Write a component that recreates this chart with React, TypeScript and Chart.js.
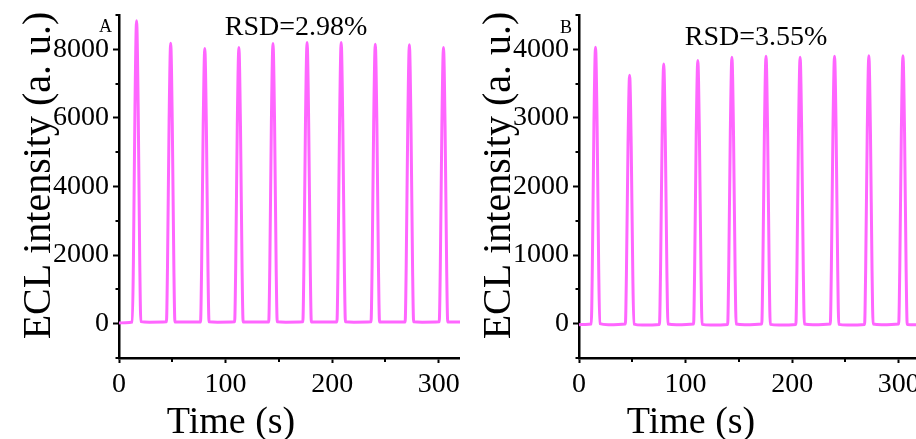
import React, { useEffect, useRef } from 'react';
import { Chart, registerables } from 'chart.js';

Chart.register(...registerables);

const FONT = "'Liberation Serif', 'Times New Roman', serif";
const LINE_COLOR = '#ff66ff';

// ---- Panel A data (time in s, ECL intensity in a.u.) ----
const timeA = [
  0, 6,
  12.5, 13.5, 15, 16.5, 18, 19.5, 20.5, 28.5,
  44.5, 45.5, 47, 48.5, 50, 51.5, 52.5, 60.5,
  76.5, 77.5, 79, 80.5, 82, 83.5, 84.5, 92.5,
  108.5, 109.5, 111, 112.5, 114, 115.5, 116.5, 124.5,
  140.5, 141.5, 143, 144.5, 146, 147.5, 148.5, 156.5,
  172.5, 173.5, 175, 176.5, 178, 179.5, 180.5, 188.5,
  204.5, 205.5, 207, 208.5, 210, 211.5, 212.5, 220.5,
  236.5, 237.5, 239, 240.5, 242, 243.5, 244.5, 252.5,
  268.5, 269.5, 271, 272.5, 274, 275.5, 276.5, 284.5,
  300.5, 301.5, 303, 304.5, 306, 307.5, 308.5, 316.5, 320,
];
const intensityA = [
  20, 30,
  50, 1770, 6360, 8830, 6300, 1740, 60, 45,
  55, 1640, 5890, 8180, 5840, 1610, 50, 50,
  50, 1600, 5770, 8020, 5730, 1580, 55, 45,
  55, 1610, 5800, 8050, 5750, 1590, 50, 50,
  50, 1630, 5880, 8170, 5840, 1610, 55, 45,
  55, 1640, 5900, 8200, 5860, 1620, 50, 50,
  50, 1640, 5900, 8200, 5860, 1620, 55, 45,
  55, 1630, 5870, 8150, 5820, 1610, 50, 50,
  50, 1630, 5850, 8130, 5810, 1600, 55, 45,
  55, 1610, 5800, 8050, 5750, 1590, 50, 50, 50,
];

// ---- Panel B data ----
const timeB = [
  0, 6,
  11.5, 12.5, 14, 15.5, 17, 18.5, 19.5, 27.5,
  43.5, 44.5, 46, 47.5, 49, 50.5, 51.5, 59.5,
  75.5, 76.5, 78, 79.5, 81, 82.5, 83.5, 91.5,
  107.5, 108.5, 110, 111.5, 113, 114.5, 115.5, 123.5,
  139.5, 140.5, 142, 143.5, 145, 146.5, 147.5, 155.5,
  171.5, 172.5, 174, 175.5, 177, 178.5, 179.5, 187.5,
  203.5, 204.5, 206, 207.5, 209, 210.5, 211.5, 219.5,
  235.8, 236.8, 238.3, 239.8, 241.3, 242.8, 243.8, 252,
  268, 269, 270.5, 272, 273.5, 275, 276, 284,
  300, 301, 302.5, 304, 305.5, 307, 308, 316, 320,
];
const intensityB = [
  -15, -10,
  -5, 810, 2900, 4030, 2880, 790, 0, -15,
  -5, 720, 2610, 3620, 2590, 700, -5, -20,
  -10, 760, 2730, 3785, 2700, 740, -5, -15,
  -5, 770, 2760, 3835, 2740, 750, -10, -20,
  -10, 780, 2800, 3885, 2770, 760, -5, -15,
  -5, 780, 2810, 3900, 2790, 770, -10, -20,
  -10, 780, 2800, 3885, 2770, 760, -5, -15,
  -5, 780, 2810, 3900, 2790, 770, -10, -20,
  -10, 780, 2810, 3905, 2790, 770, -5, -15,
  -5, 780, 2810, 3905, 2790, 770, -10, -15, -15,
];

// ---- Axis ticks ----
const xMajorTicks = [0, 100, 200, 300];
const xMinorTicks = [50, 150, 250];
const yMajorTicksA = [0, 2000, 4000, 6000, 8000];
const yMinorTicksA = [-1000, 1000, 3000, 5000, 7000, 9000];
const yMajorTicksB = [0, 1000, 2000, 3000, 4000];
const yMinorTicksB = [-500, 500, 1500, 2500, 3500, 4500];

const X_TITLE = 'Time (s)';
const Y_TITLE = 'ECL intensity (a. u.)';

type PanelProps = {
  times: number[];
  values: number[];
  yMin: number;
  yMax: number;
  yMajor: number[];
  yMinor: number[];
  letter: string;
  letterY: number;
  rsd: string;
  rsdY: number;
};

function Panel(p: PanelProps) {
  const ref = useRef<HTMLCanvasElement | null>(null);
  useEffect(() => {
    if (!ref.current) return;
    const textPlugin = {
      id: 'panelText',
      afterDraw(chart: any) {
        const ctx = chart.ctx;
        const xs = chart.scales.x;
        const ys = chart.scales.y;
        ctx.save();
        ctx.strokeStyle = '#000';
        ctx.lineWidth = 2;
        // minor ticks
        p.yMinor.forEach((v) => {
          const y = Math.round(ys.getPixelForValue(v));
          ctx.beginPath();
          ctx.moveTo(chart.chartArea.left - 3.5, y);
          ctx.lineTo(chart.chartArea.left, y);
          ctx.stroke();
        });
        xMinorTicks.forEach((v) => {
          const x = Math.round(xs.getPixelForValue(v));
          ctx.beginPath();
          ctx.moveTo(x, chart.chartArea.bottom);
          ctx.lineTo(x, chart.chartArea.bottom + 4);
          ctx.stroke();
        });
        ctx.fillStyle = '#000';
        // panel letter
        ctx.font = `18px ${FONT}`;
        ctx.textAlign = 'right';
        ctx.textBaseline = 'alphabetic';
        ctx.fillText(p.letter, 112, p.letterY);
        // RSD
        ctx.font = `28px ${FONT}`;
        ctx.textAlign = 'center';
        ctx.fillText(p.rsd, 296, p.rsdY);
        // x title
        ctx.font = `38px ${FONT}`;
        ctx.fillText(X_TITLE, 231, 433);
        // y title
        ctx.translate(50, 175.5);
        ctx.rotate(-Math.PI / 2);
        ctx.font = `40px ${FONT}`;
        ctx.fillText(Y_TITLE, 0, 0);
        ctx.restore();
      },
    };
    const chart = new Chart(ref.current, {
      type: 'line',
      data: {
        datasets: [
          {
            data: p.times.map((t, i) => ({ x: t, y: p.values[i] })),
            borderColor: LINE_COLOR,
            backgroundColor: LINE_COLOR,
            borderWidth: 3,
            pointRadius: 0,
            cubicInterpolationMode: 'monotone',
            fill: false,
          },
        ],
      },
      options: {
        responsive: false,
        animation: false,
        devicePixelRatio: 1,
        events: [],
        layout: { padding: { top: 15, left: 0, right: 0, bottom: 0 } },
        plugins: { legend: { display: false }, tooltip: { enabled: false } },
        scales: {
          x: {
            type: 'linear',
            min: 0,
            max: 320,
            afterBuildTicks: (s: any) => {
              s.ticks = xMajorTicks.map((v) => ({ value: v }));
            },
            afterFit: (s: any) => {
              s.height = 81;
              s.paddingLeft = 0;
              s.paddingRight = 0;
            },
            ticks: {
              font: { family: FONT, size: 28 },
              color: '#000',
              padding: 5,
              maxRotation: 0,
              autoSkip: false,
              callback: (v: any) => String(v),
            },
            grid: {
              drawOnChartArea: false,
              drawTicks: true,
              tickLength: 5,
              tickWidth: 2,
              tickColor: '#000',
            },
            border: { display: true, color: '#000', width: 2.5 },
          },
          y: {
            type: 'linear',
            min: p.yMin,
            max: p.yMax,
            afterBuildTicks: (s: any) => {
              s.ticks = p.yMajor.map((v) => ({ value: v }));
            },
            afterFit: (s: any) => {
              s.width = 119;
              s.paddingTop = 0;
              s.paddingBottom = 0;
            },
            ticks: {
              font: { family: FONT, size: 28 },
              color: '#000',
              padding: 4,
              autoSkip: false,
              callback: (v: any) => String(v),
            },
            grid: {
              drawOnChartArea: false,
              drawTicks: true,
              tickLength: 6,
              tickWidth: 2,
              tickColor: '#000',
            },
            border: { display: true, color: '#000', width: 2.5 },
          },
        },
      },
      plugins: [textPlugin],
    } as any);
    return () => chart.destroy();
  }, []);
  return <canvas ref={ref} width={460} height={439} style={{ display: 'block' }} />;
}

export default function App() {
  return (
    <div
      style={{
        position: 'fixed',
        left: 0,
        top: 0,
        width: 916,
        height: 439,
        overflow: 'hidden',
        background: '#fff',
      }}
    >
      <div style={{ position: 'absolute', left: 0, top: 0, width: 460, height: 439 }}>
        <Panel
          times={timeA}
          values={intensityA}
          yMin={-1000}
          yMax={9000}
          yMajor={yMajorTicksA}
          yMinor={yMinorTicksA}
          letter="A"
          letterY={32}
          rsd="RSD=2.98%"
          rsdY={35}
        />
      </div>
      <div style={{ position: 'absolute', left: 460, top: 0, width: 460, height: 439 }}>
        <Panel
          times={timeB}
          values={intensityB}
          yMin={-500}
          yMax={4500}
          yMajor={yMajorTicksB}
          yMinor={yMinorTicksB}
          letter="B"
          letterY={33}
          rsd="RSD=3.55%"
          rsdY={45}
        />
      </div>
    </div>
  );
}
